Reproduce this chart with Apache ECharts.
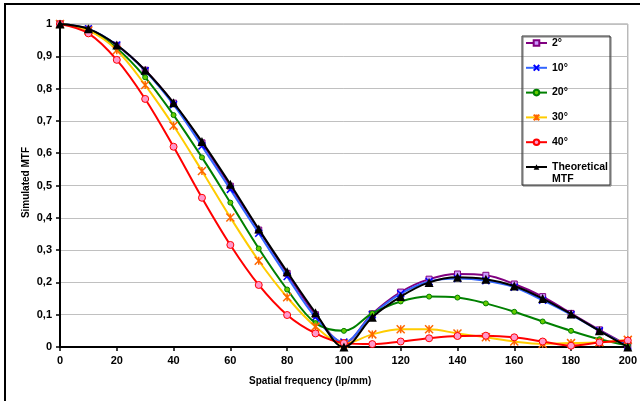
<!DOCTYPE html>
<html>
<head>
<meta charset="utf-8">
<script src="https://cdn.jsdelivr.net/npm/echarts@6/dist/echarts.min.js"></script>
<style>html,body{margin:0;padding:0;background:#fff;}#c{width:640px;height:401px;}</style>
</head>
<body>
<div id="c"></div>
<script>
const freq = [0,10,20,30,40,50,60,70,80,90,100,110,120,130,140,150,160,170,180,190,200];
const xTicks = [0,20,40,60,80,100,120,140,160,180,200];
const yTicks = [0,0.1,0.2,0.3,0.4,0.5,0.6,0.7,0.8,0.9,1];
const names = ['2°','10°','20°','30°','40°','Theoretical MTF'];
const mtf2  = [1,0.984,0.934,0.857,0.755,0.632,0.498,0.362,0.228,0.100,0.013,0.103,0.170,0.210,0.226,0.222,0.195,0.156,0.104,0.053,0.005];
const mtf10 = [1,0.985,0.935,0.855,0.750,0.622,0.488,0.352,0.218,0.092,0.015,0.100,0.165,0.203,0.212,0.205,0.185,0.145,0.100,0.050,0.003];
const mtf20 = [1,0.982,0.925,0.835,0.718,0.587,0.447,0.305,0.178,0.074,0.050,0.104,0.141,0.156,0.153,0.135,0.109,0.079,0.050,0.024,0.005];
const mtf30 = [1,0.980,0.919,0.811,0.685,0.545,0.401,0.267,0.154,0.063,0.010,0.039,0.055,0.055,0.042,0.030,0.017,0.010,0.012,0.015,0.022];
const mtf40 = [1,0.971,0.889,0.768,0.620,0.462,0.316,0.192,0.099,0.042,0.012,0.009,0.017,0.027,0.034,0.035,0.030,0.017,0.004,0.014,0.020];
const mtfTh = [1,0.985,0.935,0.857,0.756,0.636,0.504,0.365,0.233,0.106,0.000,0.092,0.156,0.200,0.216,0.210,0.189,0.150,0.102,0.050,0.000];

const pairs = arr => freq.map((f,i)=>[f,arr[i]]);
const FONT = '"Liberation Sans", Arial, sans-serif';
const crossPath = 'path://M0,0 L10,10 M10,0 L0,10';
const starPath = 'path://M0,0 L10,10 M10,0 L0,10 M5,0 L5,10';

const styles = [
  {line:'#800080', symbol:'rect', size:6, fill:'#CC99FF', border:'#800080', bw:1},
  {line:'#3366FF', symbol:crossPath, size:7, fill:'#0000FF', border:'#0000FF', bw:1.5},
  {line:'#008000', symbol:'circle', size:5, fill:'#66CC00', border:'#008000', bw:1},
  {line:'#FFCC00', symbol:starPath, size:8, fill:'#FF6600', border:'#FF6600', bw:1.5},
  {line:'#FF0000', symbol:'circle', size:7, fill:'#FF99CC', border:'#FF0000', bw:1},
  {line:'#000000', symbol:'triangle', size:9, fill:'#000000', border:'#000000', bw:0}
];
const datas = [mtf2, mtf10, mtf20, mtf30, mtf40, mtfTh];

const series = datas.map((d,i)=>({
  name: names[i],
  type: 'line',
  data: pairs(d),
  smooth: 0.35,
  symbol: styles[i].symbol,
  symbolSize: styles[i].size,
  showAllSymbol: true,
  lineStyle: {color: styles[i].line, width: 2},
  itemStyle: {color: styles[i].fill, borderColor: styles[i].border, borderWidth: styles[i].bw},
  emphasis: {disabled: true},
  animation: false,
  z: 2 + i
}));

const fmtY = v => v===0 ? '0' : v===1 ? '1' : String(Math.round(v*10)/10).replace('.', ',');
const legendText = {fontFamily: FONT, fontWeight: 'bold', fontSize: 10.5, color: '#000', lineHeight: 12};

const chart = echarts.init(document.getElementById('c'), null, {renderer:'canvas'});
chart.setOption({
  animation: false,
  backgroundColor: '#fff',
  textStyle: {fontFamily: FONT},
  grid: {left: 60, top: 24, right: 12, bottom: 54, show: true, borderColor: '#999', borderWidth: 1, backgroundColor: '#fff'},
  xAxis: {
    type: 'value', min: 0, max: 200, interval: 20,
    axisLine: {show: true, lineStyle: {color: '#000', width: 2}},
    axisTick: {show: true, length: 4, lineStyle: {color: '#000', width: 1.5}},
    axisLabel: {fontFamily: FONT, fontWeight: 'bold', fontSize: 11, color: '#000', margin: 8},
    splitLine: {show: false}
  },
  yAxis: {
    type: 'value', min: 0, max: 1, interval: 0.1,
    axisLine: {show: true, lineStyle: {color: '#000', width: 2}},
    axisTick: {show: true, length: 4, lineStyle: {color: '#000', width: 1.5}},
    axisLabel: {fontFamily: FONT, fontWeight: 'bold', fontSize: 11, color: '#000', margin: 8,
      formatter: fmtY},
    splitLine: {show: true, lineStyle: {color: '#C0C0C0', width: 1}}
  },
  legend: [
    {
      orient: 'vertical', left: 525, top: 37, padding: 0,
      itemWidth: 21, itemHeight: 7, itemGap: 12.8,
      data: names.slice(0,5),
      textStyle: legendText, selectedMode: false, z: 50
    },
    {
      orient: 'vertical', left: 525, top: 149, padding: 0,
      itemWidth: 21, itemHeight: 7,
      data: [names[5]],
      formatter: n => ' \nTheoretical\nMTF',
      textStyle: legendText, selectedMode: false, z: 50
    }
  ],
  graphic: [
    {type:'rect', z: 100, shape:{x:522, y:36, width:88, height:149}, style:{fill:'none', stroke:'#333', lineWidth:1, shadowColor:'#777', shadowOffsetX:1, shadowOffsetY:1, shadowBlur:0}, silent:true},
    {type:'rect', z: 100, shape:{x:5, y:4, width:700, height:500}, style:{fill:'none', stroke:'#000', lineWidth:2}, silent:true},
    {type:'text', z: 100, left: 249, top: 376, style:{text:'Spatial frequency (lp/mm)', font:'bold 10px ' + FONT, fill:'#000'}},
    {type:'text', z: 100, left: 21, top: 147, rotation: Math.PI/2, style:{text:'Simulated MTF', font:'bold 10px ' + FONT, fill:'#000'}}
  ],
  series: series
});
</script>
</body>
</html>
